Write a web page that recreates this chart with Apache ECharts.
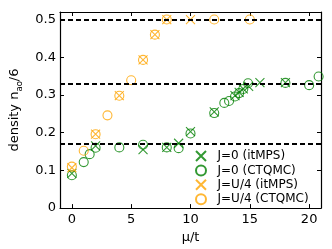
<!DOCTYPE html>
<html>
<head>
<meta charset="utf-8">
<script src="https://cdn.jsdelivr.net/npm/echarts@6/dist/echarts.min.js"></script>
<style>
html,body{margin:0;padding:0;background:#fff;}
#c{width:332px;height:249px;}
</style>
</head>
<body>
<div id="c"></div>
<script>
// ---- data ----
const seriesNames = ['J=0 (itMPS)', 'J=0 (CTQMC)', 'J=U/4 (itMPS)', 'J=U/4 (CTQMC)'];
const muJ0MPS = [0, 2, 6, 8, 9, 10, 12, 13.75, 14.1, 14.45, 14.9, 15.85, 18];
const nJ0MPS  = [0.092, 0.165, 0.155, 0.161, 0.172, 0.203, 0.255, 0.298, 0.307, 0.316, 0.323, 0.333, 0.333];
const muJ0QMC = [0, 1, 1.5, 2, 4, 6, 8, 9, 10, 12, 12.85, 13.25, 13.75, 14.1, 14.45, 14.85, 18, 20, 20.8];
const nJ0QMC  = [0.087, 0.122, 0.143, 0.160, 0.161, 0.168, 0.161, 0.159, 0.198, 0.252, 0.279, 0.284, 0.296, 0.305, 0.316, 0.331, 0.332, 0.326, 0.349];
const muJ4MPS = [0, 2, 4, 6, 7, 8, 10];
const nJ4MPS  = [0.107, 0.196, 0.298, 0.393, 0.460, 0.500, 0.500];
const muJ4QMC = [0, 1, 2, 3, 4, 5, 6, 7, 8, 12, 15];
const nJ4QMC  = [0.110, 0.152, 0.196, 0.246, 0.298, 0.339, 0.393, 0.460, 0.500, 0.500, 0.500];
const plateaus = [1/6, 1/3, 1/2];
const xTicks = [0, 5, 10, 15, 20];
const yTicks = [0, 0.1, 0.2, 0.3, 0.4, 0.5];

const GREEN = '#008000', ORANGE = '#FFA500';
const XSYM = 'path://M0,0L10,10M10,0L0,10';
const FONT = 'DejaVu Sans';
const zip = (a, b) => a.map((v, i) => [v, b[i]]);

const chart = echarts.init(document.getElementById('c'), null, {renderer: 'canvas'});

function mk(name, xs, ys, color, sym) {
  return {
    name: name, type: 'scatter', xAxisIndex: 0, yAxisIndex: 0,
    data: zip(xs, ys), symbol: sym, symbolSize: 9, z: 3,
    itemStyle: {color: 'rgba(0,0,0,0)', borderColor: color, borderWidth: 1.1},
    emphasis: {disabled: true}
  };
}
const tickCommon = {show: true, inside: true, length: 4, lineStyle: {color: '#000', width: 1}};
const lineCommon = {show: true, onZero: false, lineStyle: {color: '#000', width: 1.2}};

chart.setOption({
  animation: false,
  textStyle: {fontFamily: FONT},
  grid: {left: 60, right: 11, top: 12, bottom: 38},
  xAxis: [
    {type: 'value', min: -1, max: 21, position: 'bottom',
     name: 'μ/t', nameLocation: 'middle', nameGap: 16,
     nameTextStyle: {fontSize: 13, color: '#000', fontFamily: FONT},
     axisLine: lineCommon, splitLine: {show: false},
     axisTick: Object.assign({customValues: xTicks}, tickCommon),
     axisLabel: {customValues: xTicks, color: '#000', fontSize: 13, margin: 5, fontFamily: FONT}},
    {type: 'value', min: -1, max: 21, position: 'top',
     axisLine: lineCommon, splitLine: {show: false},
     axisTick: Object.assign({customValues: xTicks}, tickCommon),
     axisLabel: {show: false}}
  ],
  yAxis: [
    {type: 'value', min: 0, max: 0.52, position: 'left',
     name: '{a|density n}{s|ao}{a|/6}', nameLocation: 'middle', nameGap: 29,
     nameTextStyle: {color: '#000', fontSize: 13, fontFamily: FONT,
       rich: {a: {fontSize: 13, color: '#000', fontFamily: FONT, lineHeight: 16, verticalAlign: 'bottom'},
              s: {fontSize: 8.5, color: '#000', fontFamily: FONT, lineHeight: 16, verticalAlign: 'bottom', padding: [0, 0, -3, 0]}}},
     axisLine: lineCommon, splitLine: {show: false},
     axisTick: Object.assign({customValues: yTicks}, tickCommon),
     axisLabel: {customValues: yTicks, color: '#000', fontSize: 13, margin: 4, fontFamily: FONT,
       formatter: v => (v === 0 ? '0' : v.toFixed(1))}},
    {type: 'value', min: 0, max: 0.52, position: 'right',
     axisLine: lineCommon, splitLine: {show: false},
     axisTick: Object.assign({customValues: yTicks}, tickCommon),
     axisLabel: {show: false}}
  ],
  legend: {
    orient: 'vertical', left: 195, top: 150, padding: 0,
    itemWidth: 23, itemHeight: 10, itemGap: 2.4, symbolKeepAspect: true,
    textStyle: {fontSize: 12, color: '#000', fontFamily: FONT},
    data: seriesNames.map(n => ({name: n})),
    selectedMode: false
  },
  series: [
    {type: 'line', name: 'plateaus', data: [], z: 1, silent: true,
     markLine: {silent: true, symbol: 'none', animation: false,
       lineStyle: {color: '#000', width: 1.8, type: [5, 3]},
       label: {show: false},
       data: plateaus.map(p => ({yAxis: p}))}},
    mk(seriesNames[0], muJ0MPS, nJ0MPS, GREEN, XSYM),
    mk(seriesNames[1], muJ0QMC, nJ0QMC, GREEN, 'circle'),
    mk(seriesNames[2], muJ4MPS, nJ4MPS, ORANGE, XSYM),
    mk(seriesNames[3], muJ4QMC, nJ4QMC, ORANGE, 'circle')
  ]
});
</script>
</body>
</html>
